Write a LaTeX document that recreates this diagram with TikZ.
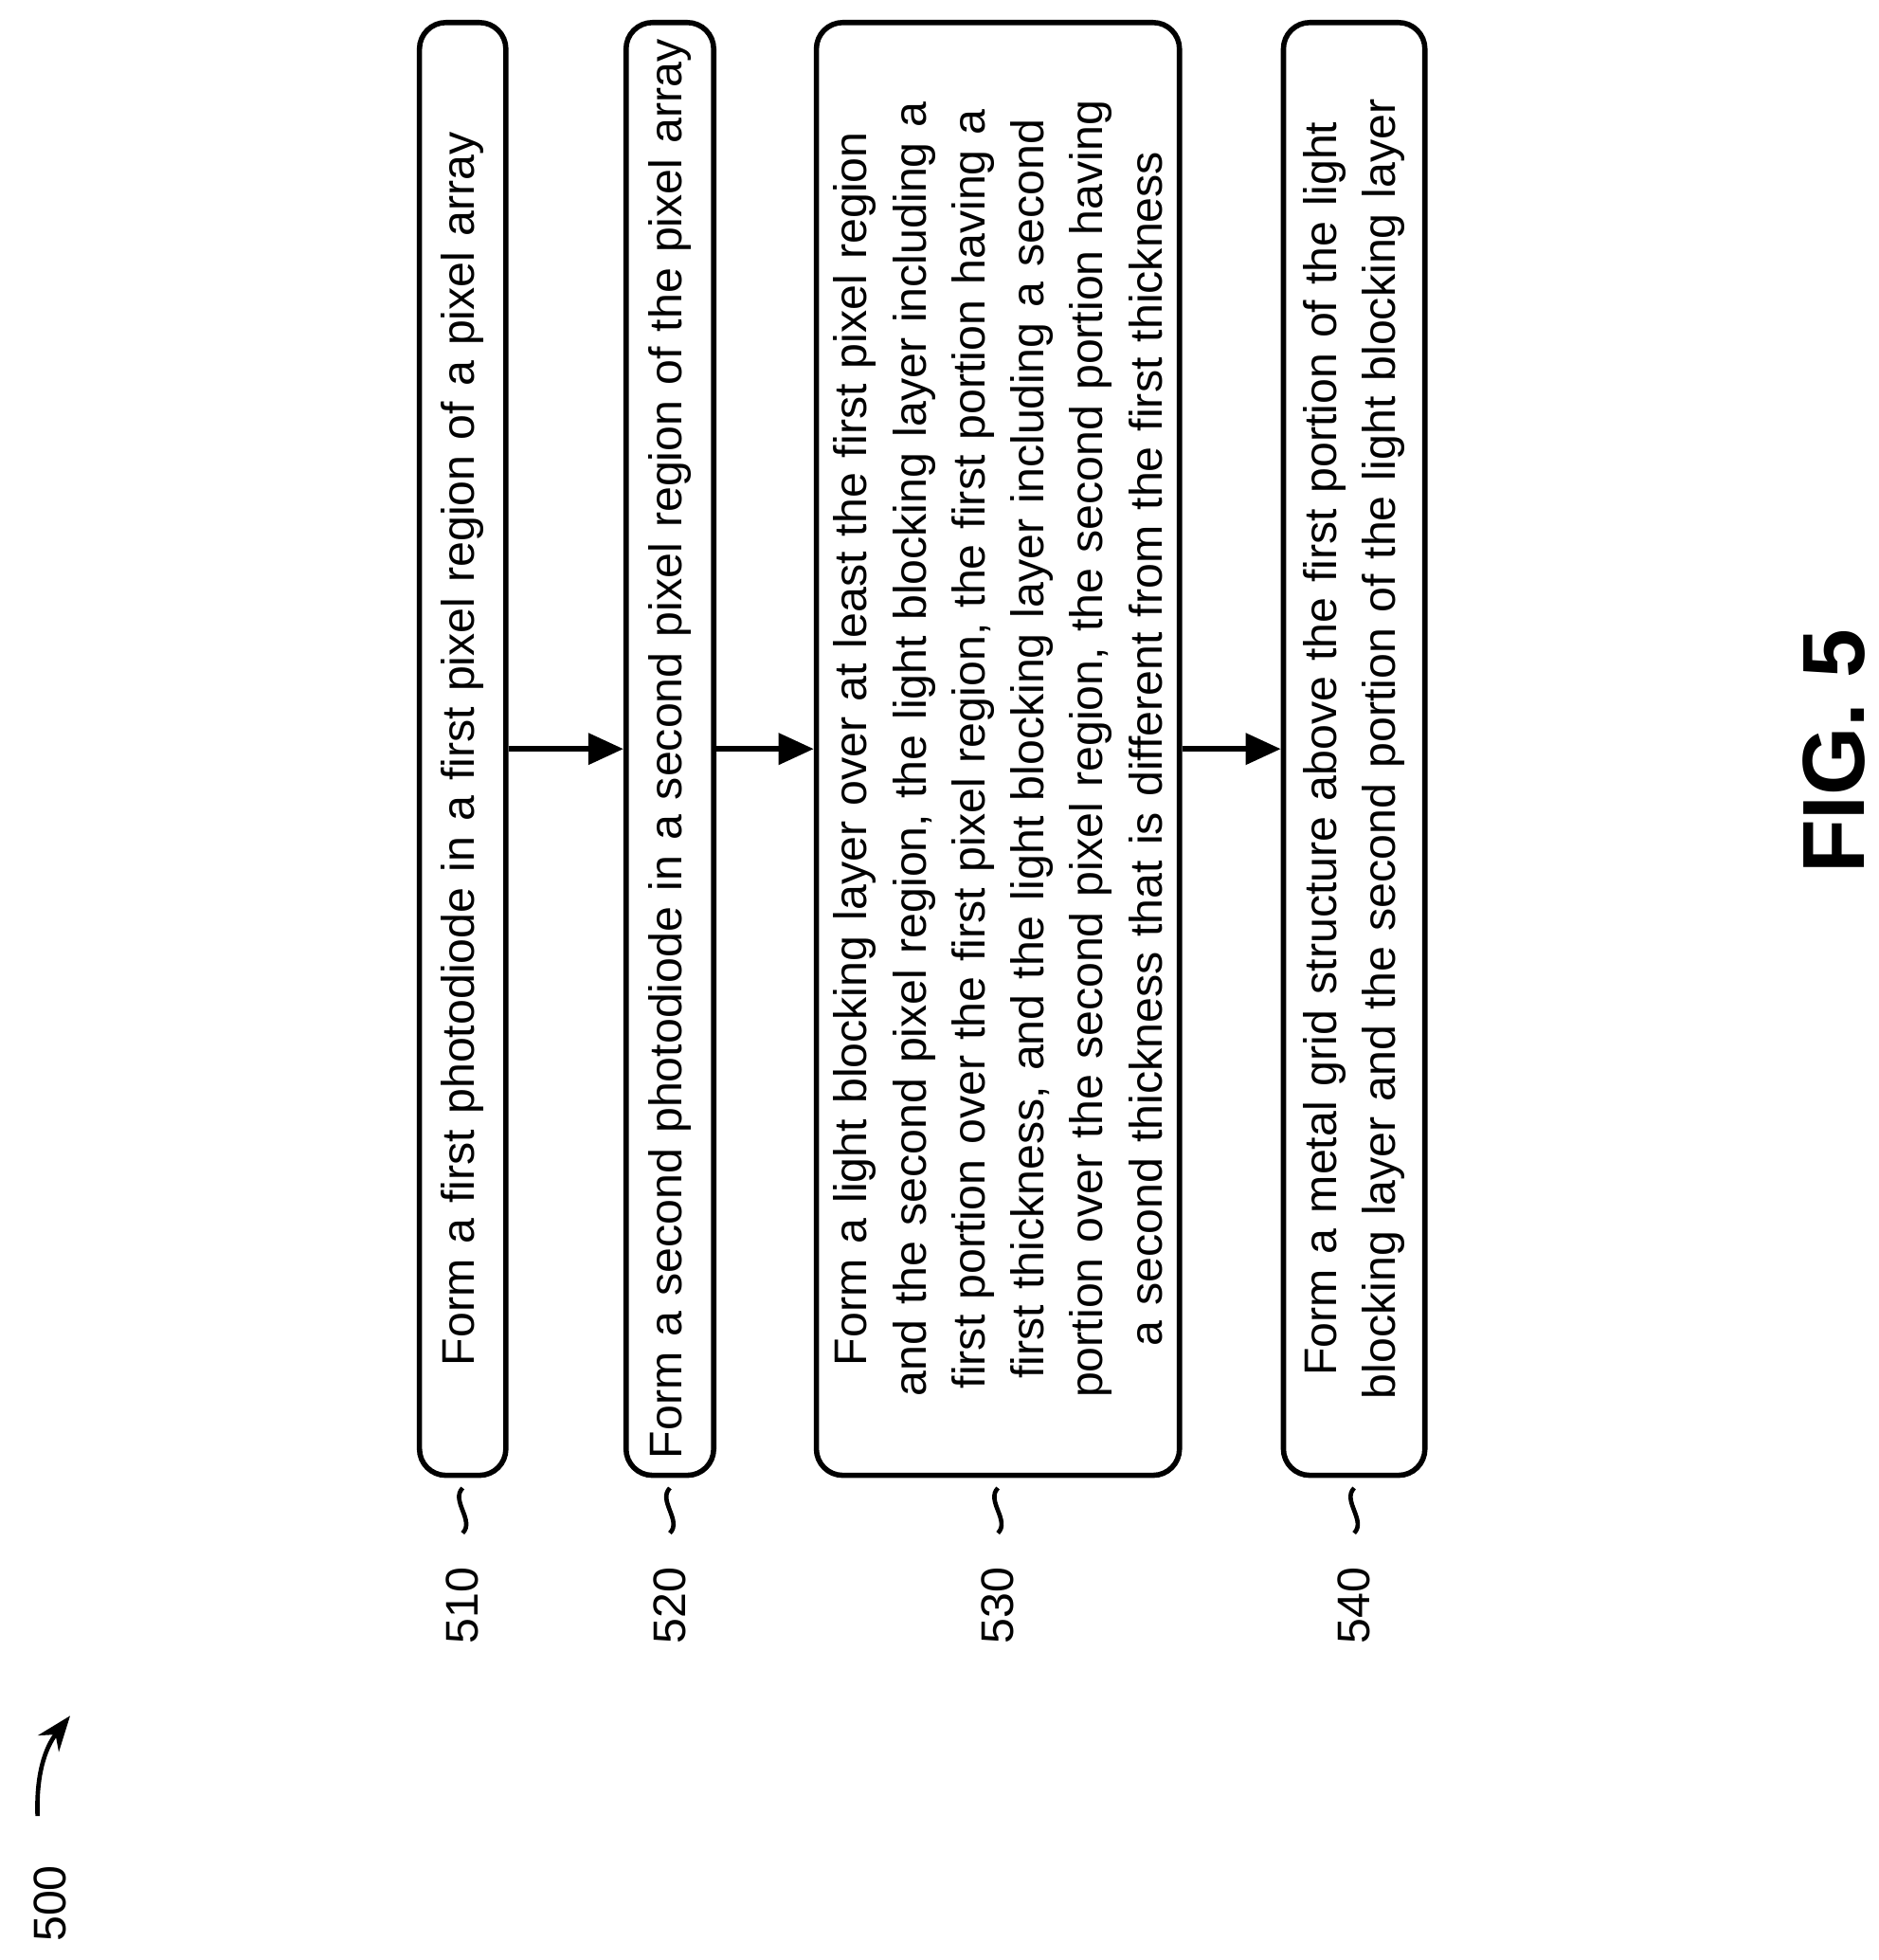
\documentclass[tikz,border=0pt]{standalone}
\usepackage{fontspec}
\setmainfont{Liberation Sans}
\usetikzlibrary{arrows.meta,calc}
\tikzset{
  stepbox/.style={draw, rounded corners=6pt, line width=1.2pt, rotate=90,
    minimum width=11.6cm, text width=11.45cm, align=center, inner sep=1pt,
    font=\fontsize{10.4pt}{13.4pt}\selectfont},
  flow/.style={-{Triangle[length=8pt,width=7pt]}, line width=1.2pt},
  reflabel/.style={rotate=90, font=\fontsize{10.4pt}{13.4pt}\selectfont}
}
\begin{document}
\begin{tikzpicture}
  \useasboundingbox (0,0) rectangle (15,-15.65);
  \hyphenpenalty=10000 \exhyphenpenalty=10000
  % process steps
  \node[stepbox, minimum height=0.69cm] (s510) at (3.695,-5.98) {Form a first photodiode in a first pixel region of a pixel array};
  \node[stepbox, minimum height=0.70cm] (s520) at (5.35,-5.98) {Form a second photodiode in a second pixel region of the pixel array};
  \node[stepbox, minimum height=2.90cm] (s530) at (7.97,-5.98) {Form a light blocking layer over at least the first pixel region and the second pixel region, the light blocking layer including a first portion over the first pixel region, the first portion having a first thickness, and the light blocking layer including a second portion over the second pixel region, the second portion having a second thickness that is different from the first thickness};
  \node[stepbox, minimum height=1.13cm] (s540) at (10.815,-5.98) {Form a metal grid structure above the first portion of the light blocking layer and the second portion of the light blocking layer};
  \draw[flow] (s510.south) -- (s520.north);
  \draw[flow] (s520.south) -- (s530.north);
  \draw[flow] (s530.south) -- (s540.north);
  % reference numerals
  \foreach \n in {510,520,530,540} {
    \draw[line width=1pt] ($(s\n.west)+(0,-0.08)$) to[out=-135,in=45] ($(s\n.west)+(0,-0.44)$);
    \node[reflabel] (l\n) at ($(s\n.west)+(0,-1.02)$) {\n};
  }
  \node[reflabel] (l500) at (0.4,-15.2) {500};
  \coordinate (a500) at (0.3,-14.5);
  \coordinate (b500) at (0.56,-13.7);
  \draw[-{Stealth[length=8pt]}, line width=1pt] (a500) to[bend left=20] (b500);
  \node[rotate=90, font=\bfseries\fontsize{20pt}{24pt}\selectfont] (fig) at (14.65,-6.0) {FIG. 5};
\end{tikzpicture}
\end{document}
